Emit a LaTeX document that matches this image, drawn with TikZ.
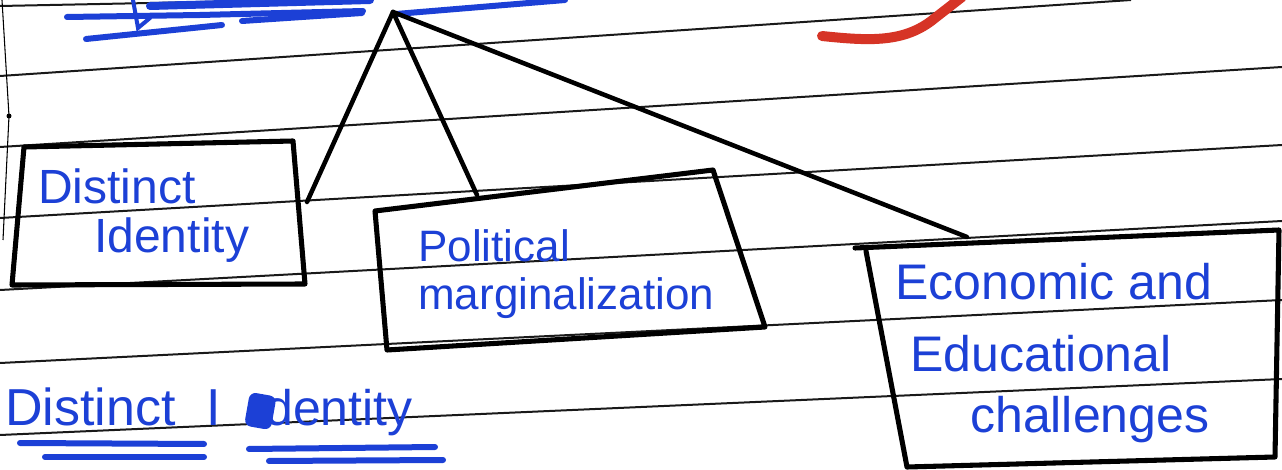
\documentclass[tikz,border=0pt]{standalone}
\usepackage{fontspec}
\setmainfont{Liberation Sans}
\definecolor{ink}{RGB}{28,64,214}
\definecolor{redink}{RGB}{214,52,38}
\begin{document}
\begin{tikzpicture}[x=0.75pt,y=-0.75pt,
  rule/.style={line width=1.5pt, black!90},
  box/.style={line width=3.8pt, line join=round, line cap=round},
  conn/.style={line width=3.4pt, line cap=round},
  lab/.style={text=ink, anchor=base west, inner sep=0pt},
  uline/.style={ink, line width=4.5pt, line cap=round}]
\useasboundingbox (0,0) rectangle (1282,470);
\fill[white] (0,0) rectangle (1282,470);
% ruled paper lines
\draw[rule] (0,6) -- (300,0);
\draw[rule] (0,76) -- (1131,0);
\draw[rule] (0,147) -- (1282,67);
\draw[rule] (0,218) -- (1282,145);
\draw[rule] (0,290) -- (1282,221);
\draw[rule] (0,363) -- (1282,300);
\draw[rule] (0,435) -- (1282,379);
% margin line
\draw[line width=0.8pt] (2,0) -- (9,116) -- (3,240);
\fill (9,116) circle (2.5);
% top blue underlines (heading cut off)
\draw[uline, line width=6pt] (150,6) -- (370,0);
\draw[uline] (67,17) -- (200,15) -- (363,11);
\draw[uline] (86,39) -- (222,25);
\draw[uline] (242,21) -- (362,13);
\draw[uline] (396,14) -- (565,0);
\draw[ink, line width=3pt, line cap=round] (133,0) -- (138,28) -- (150,18);
% red stroke
\draw[redink, line width=7.5pt, line cap=round] (822,36) .. controls (870,41) and (905,43) .. (935,18) -- (962,-3);
% boxes
\coordinate (b1tl) at (24,147);
\coordinate (b1tr) at (293,141);
\coordinate (b1br) at (305,284);
\coordinate (b1bl) at (12,285);
\draw[box] (b1tl) -- (b1tr) -- (b1br) -- (b1bl) -- cycle;
\coordinate (b2tl) at (375,211);
\coordinate (b2tr) at (713,170);
\coordinate (b2br) at (765,327);
\coordinate (b2bl) at (387,350);
\draw[box] (b2tl) -- (b2tr) -- (b2br) -- (b2bl) -- cycle;
\coordinate (b3tl) at (855,248);
\coordinate (b3tr) at (1279,230);
\coordinate (b3br) at (1275,457);
\coordinate (b3bl) at (907,467);
\coordinate (b3lt) at (866,251);
\draw[box] (b3tl) -- (b3tr) -- (b3br) -- (b3bl) -- (b3lt);
% connectors
\coordinate (apex) at (393,12);
\coordinate (c1) at (307,202);
\coordinate (c2) at (477,195);
\coordinate (c3) at (967,237);
\draw[conn] (apex) -- (c1);
\draw[conn] (apex) -- (c2);
\draw[conn] (apex) -- (c3);
% labels
\node[lab, font=\fontsize{36}{38}\selectfont] (t1a) at (38,204) {Distinct};
\node[lab, font=\fontsize{36}{38}\selectfont] (t1b) at (94,253) {Identity};
\node[lab, font=\fontsize{33}{36}\selectfont] (t2a) at (418,262) {Political};
\node[lab, font=\fontsize{33}{36}\selectfont] (t2b) at (418,310) {marginalization};
\node[lab, font=\fontsize{37.5}{40}\selectfont] (t3a) at (895,300) {Economic and};
\node[lab, font=\fontsize{37.5}{40}\selectfont] (t3b) at (910,372) {Educational};
\node[lab, font=\fontsize{37.5}{40}\selectfont] (t3c) at (970,432) {challenges};
% bottom heading
\node[lab, font=\fontsize{39}{42}\selectfont] (h1) at (5,425) {Distinct};
\node[lab, font=\fontsize{39}{42}\selectfont] (h2) at (206,425) {I};
\fill[ink, rounded corners=5pt, rotate around={-10:(260,410)}] (247,394) rectangle (274,428);
\node[lab, font=\fontsize{37.5}{40}\selectfont] (h3) at (265,425) {dentity};
\draw[uline] (20,443) -- (204,444);
\draw[uline] (45,457) -- (204,457);
\draw[uline] (249,449) -- (435,447);
\draw[uline] (269,461) -- (443,460);
\end{tikzpicture}
\end{document}
